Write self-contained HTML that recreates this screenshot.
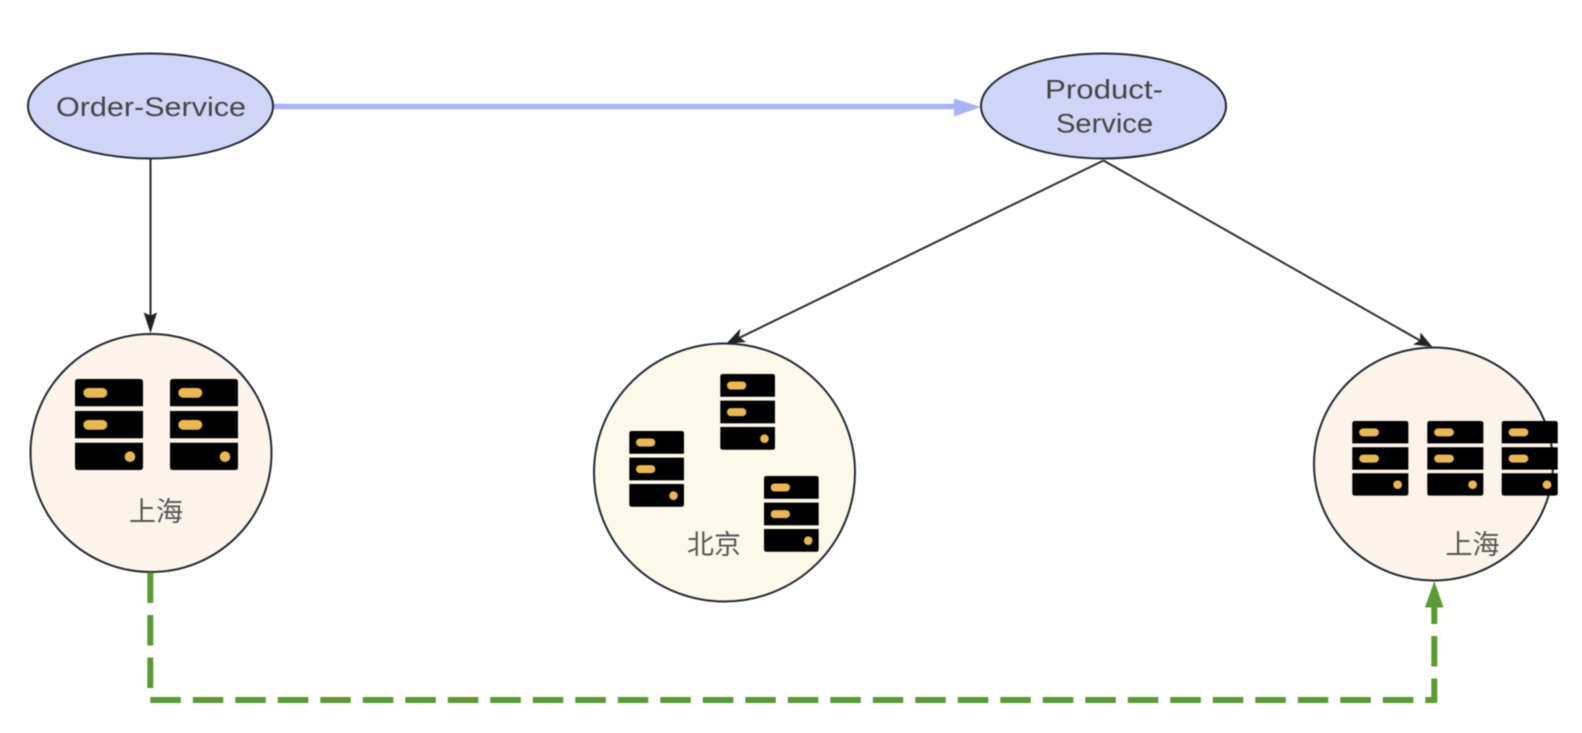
<!DOCTYPE html>
<html>
<head>
<meta charset="utf-8">
<style>
html,body{margin:0;padding:0;background:#fff;width:1582px;height:733px;overflow:hidden}
svg{display:block;filter:blur(0.45px)}
.t{font-family:"Liberation Sans",sans-serif;font-size:27px;fill:#454545}
.c{font-family:"Liberation Sans","Noto Sans CJK SC",sans-serif;font-size:27px;fill:#555}
</style>
</head>
<body>
<svg width="1582" height="733" viewBox="0 0 1582 733" xmlns="http://www.w3.org/2000/svg">
<defs>
<g id="srv">
<path d="M3 0H65Q68 0 68 3V27.3H0V3Q0 0 3 0Z" fill="#000"/>
<rect x="0" y="32" width="68" height="27.3" fill="#000"/>
<path d="M0 63.7H68V88Q68 91 65 91H3Q0 91 0 88Z" fill="#000"/>
<rect x="8.3" y="9" width="24" height="9.7" rx="4.8" fill="#e9b84e"/>
<rect x="8.3" y="41" width="24" height="9.7" rx="4.8" fill="#e9b84e"/>
<circle cx="55" cy="77.7" r="5.3" fill="#e9b84e"/>
</g>
</defs>

<!-- black connectors -->
<line x1="150.5" y1="159" x2="150.5" y2="316" stroke="#2a2a2a" stroke-width="2"/>
<path d="M150.5 333.2L143.7 312.5L150.5 315.5L157 312.5Z" fill="#222"/>
<line x1="1103.5" y1="160.5" x2="738" y2="338.5" stroke="#2e2e2e" stroke-width="2"/>
<path d="M726 344L740.5 328.5L739 337L746 342Z" fill="#222"/>
<line x1="1103.5" y1="160.5" x2="1420" y2="340.5" stroke="#2e2e2e" stroke-width="2"/>
<path d="M1432.5 347L1420.5 332.5L1420 340.5L1413 344.5Z" fill="#222"/>

<!-- blue connector -->
<line x1="273" y1="106.5" x2="960" y2="106.5" stroke="#a9b1f8" stroke-width="5.5"/>
<path d="M981 107L954 98.5V116.5Z" fill="#a9b1f8"/>

<!-- nodes -->
<ellipse cx="150.5" cy="106" rx="122.5" ry="52.5" fill="#d0d5f8" stroke="#222a30" stroke-width="2"/>
<ellipse cx="1103.5" cy="106" rx="122.5" ry="52.5" fill="#d0d5f8" stroke="#222a30" stroke-width="2"/>
<ellipse cx="151" cy="453" rx="120.5" ry="119" fill="#fcf3ea" stroke="#222a30" stroke-width="2"/>
<ellipse cx="724.5" cy="472.5" rx="130.5" ry="129" fill="#fcf8ea" stroke="#222a30" stroke-width="2"/>
<ellipse cx="1433.5" cy="464" rx="119.5" ry="116.5" fill="#fcf3ea" stroke="#222a30" stroke-width="2"/>

<!-- green connector -->
<path d="M150.3 572.5V700H1434.3V607" fill="none" stroke="#5a9a30" stroke-width="6" stroke-dasharray="30.5 12"/>
<path d="M1434.3 581L1425 607.5H1443.5Z" fill="#5a9a30"/>

<!-- servers -->
<use href="#srv" transform="translate(75 379)"/>
<use href="#srv" transform="translate(170 379)"/>
<use href="#srv" transform="translate(629.3 431) scale(.804 .832)"/>
<use href="#srv" transform="translate(720.3 374) scale(.804 .832)"/>
<use href="#srv" transform="translate(764 476) scale(.804 .832)"/>
<use href="#srv" transform="translate(1352.3 421) scale(.824 .82)"/>
<use href="#srv" transform="translate(1427.3 421) scale(.824 .82)"/>
<use href="#srv" transform="translate(1501.7 421) scale(.824 .82)"/>

<!-- labels -->
<text class="t" x="56" y="116" textLength="190" lengthAdjust="spacingAndGlyphs">Order-Service</text>
<text class="t" x="1045" y="98.5" textLength="118" lengthAdjust="spacingAndGlyphs">Product-</text>
<text class="t" x="1056" y="132.5" textLength="97" lengthAdjust="spacingAndGlyphs">Service</text>
<text class="c" x="129" y="521">上海</text>
<text class="c" x="687" y="554">北京</text>
<text class="c" x="1445.5" y="554">上海</text>
</svg>
</body>
</html>
